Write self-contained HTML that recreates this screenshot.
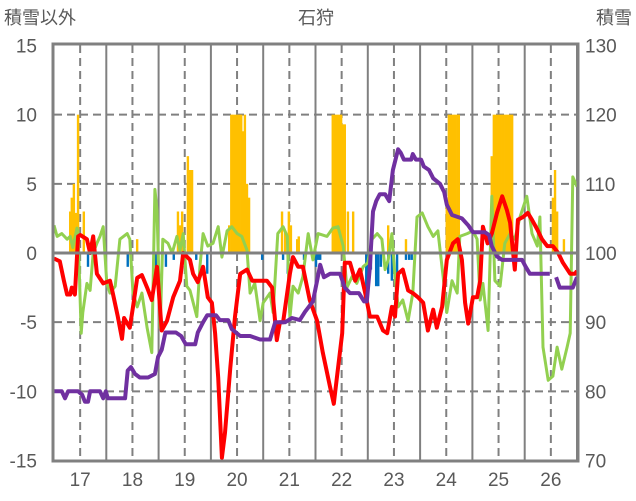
<!DOCTYPE html>
<html><head><meta charset="utf-8">
<style>
html,body{margin:0;padding:0;background:#fff;}
svg{display:block;font-family:"Liberation Sans","Noto Sans CJK JP",sans-serif;}
</style></head>
<body>
<svg id="chart" width="636" height="501" viewBox="0 0 636 501">
  <text x="4" y="24" font-size="18" fill="#595959">積雪以外</text>
  <text x="316" y="24" font-size="18" fill="#595959" text-anchor="middle">石狩</text>
  <text x="632" y="24" font-size="18" fill="#595959" text-anchor="end">積雪</text>
  <g id="grid"></g>
  <g id="bars"></g>
  <g id="lines"></g>
  <g id="axes"></g>
</svg>
<script>
const leftTicks = [15,10,5,0,-5,-10,-15];
const rightTicks = [130,120,110,100,90,80,70];
const yearLabels = [17,18,19,20,21,22,23,24,25,26];

const redT = [16.5,16.61,16.69,16.75,16.81,16.84,16.9,16.96,17.0,17.13,17.19,17.25,17.32,17.44,17.57,17.63,17.72,17.8,17.84,17.95,18.01,18.09,18.18,18.28,18.37,18.47,18.56,18.66,18.78,18.91,18.97,19.1,19.16,19.25,19.35,19.44,19.52,19.58,19.64,19.71,19.77,19.87,19.96,20.06,20.19,20.29,20.44,20.57,20.67,20.76,20.82,20.88,21.01,21.07,21.17,21.26,21.39,21.53,21.64,21.78,21.85,21.91,22.01,22.06,22.16,22.26,22.35,22.45,22.54,22.68,22.79,22.87,22.96,23.02,23.08,23.17,23.27,23.36,23.46,23.56,23.65,23.75,23.82,23.92,24.01,24.13,24.22,24.3,24.36,24.42,24.51,24.59,24.65,24.7,24.79,24.87,24.97,25.07,25.16,25.22,25.31,25.37,25.47,25.56,25.64,25.74,25.83,25.93,26.04,26.14,26.23,26.37,26.46,26.5];
const redV = [-0.4,-0.6,-2,-3,-3,-2.5,-3,1.2,1.3,1,0,1.2,-1.5,-2.2,-2,-3,-4.6,-6.2,-4.7,-5.4,-3.9,-1.8,-1.6,-2.5,-3.4,-1,-5.6,-4.9,-3.2,-2,0,-0.5,-1.5,-2.1,-1,-3.2,-3.6,-5.8,-9,-14.8,-13,-8.3,-4.6,-1.5,-1.2,-2,-2,-2,-2.5,-6.3,-5,-5,-1.5,-0.3,-1,-1,-3.4,-4.9,-7.2,-9.7,-10.9,-9,-5.8,-0.7,-0.7,-2,-1.2,-2.9,-4.6,-4.6,-5.6,-5.8,-3.9,-4.6,-1.5,-1.2,-2.7,-2.9,-3.2,-3.6,-5.6,-4.1,-5.4,-3.9,-0.5,0.7,1,-0.5,-3.6,-5.1,-3.2,-3.2,-2,1.9,0.7,1.4,2.9,4.1,3.1,2.2,-1.2,2.4,2.6,2.9,2.4,1.7,1,0.5,0.5,0,-0.7,-1.5,-1.5,-1.3];

const greenT = [16.5,16.56,16.65,16.75,16.81,16.86,16.94,16.96,17.02,17.05,17.13,17.19,17.25,17.32,17.38,17.44,17.51,17.57,17.67,17.76,17.9,17.95,18.01,18.09,18.18,18.28,18.37,18.43,18.47,18.53,18.58,18.68,18.76,18.85,18.91,18.97,19.04,19.1,19.23,19.29,19.35,19.44,19.54,19.64,19.71,19.81,19.9,20.0,20.09,20.19,20.25,20.34,20.44,20.5,20.63,20.69,20.78,20.88,20.96,21.01,21.07,21.17,21.26,21.36,21.45,21.55,21.72,21.83,21.93,22.03,22.1,22.2,22.29,22.41,22.5,22.58,22.68,22.77,22.83,22.89,22.96,23.02,23.08,23.17,23.27,23.36,23.44,23.54,23.65,23.75,23.84,23.94,24.01,24.11,24.21,24.26,24.4,24.51,24.59,24.65,24.7,24.8,24.87,24.93,25.03,25.12,25.22,25.31,25.41,25.54,25.64,25.74,25.79,25.85,25.95,26.04,26.12,26.21,26.31,26.37,26.42,26.5];
const greenV = [2,1.2,1.4,1,1.2,0.4,1.8,1.4,-5.8,-4.3,-2.2,-2.7,0,0.7,1.2,1.9,-2.2,-2.9,-2.4,1,1.4,1,-2.9,-3.9,-2.9,-5.4,-7.2,4.6,3.1,-5.4,1,0.7,0,1.2,0.2,1.4,-2.4,-2.7,-4.6,-1,1.4,0.5,0.7,1.9,-0.3,1.6,1.9,1.4,1.2,0.2,-2.9,-2.2,-4.9,-3.6,-2.9,-4.3,1.4,1.9,1.2,-4.7,-2.4,-2.9,-1.7,1.4,-0.5,1.4,1.2,1.8,1.9,0.5,-2.5,-1.7,-2.2,-1,-0.7,1,1.4,1,-1.2,-0.5,1.4,-1.7,-3.9,-3.4,-4.9,-2.9,2.6,2.9,1.9,1.2,1.6,-1.7,-4.3,-2,-2.9,1.2,1.4,1.6,1,-3.4,-2.2,-5.6,4.1,-2,-2.4,0.7,1.4,1,2.6,4.1,1.4,0.5,2.6,-6.8,-9.2,-8.9,-6.8,-8.4,-6.8,-5.8,5.5,4.8];

const purpleT = [16.5,16.65,16.71,16.77,16.96,17.04,17.09,17.15,17.19,17.38,17.44,17.49,17.53,17.86,17.91,17.97,18.05,18.14,18.3,18.43,18.49,18.56,18.63,18.83,18.93,19.02,19.2,19.25,19.35,19.43,19.6,19.67,19.83,19.9,20.06,20.25,20.44,20.63,20.73,20.92,21.05,21.2,21.3,21.45,21.53,21.59,21.66,21.78,21.97,22.06,22.16,22.33,22.43,22.48,22.54,22.6,22.66,22.73,22.83,22.91,22.98,23.08,23.13,23.19,23.33,23.36,23.42,23.52,23.57,23.67,23.75,23.88,23.96,24.01,24.11,24.3,24.42,24.51,24.74,24.82,24.87,24.97,25.07,25.45,25.52,25.6,25.98,26.04,26.1,26.17,26.42,26.5];
const purpleV = [80,80,79,80,80,79.5,78.5,78.5,80,80,79,80,79,79,83,83.5,82.5,82,82,82.5,85,86,88.5,88.5,88,86.8,86.8,88.5,90,91,91,90.3,90.3,89,88,88,87.5,87.5,90,90,90.6,90.3,91.5,93,96,98.3,96.5,97,97,95,94.2,94.2,93,93,98,106,107.5,108.5,108.5,107.5,112,115,114.5,113.5,113.5,114.3,113.5,113.5,112.5,112,110.8,110,108.8,107,105.5,105,104,103,103,102.6,101,99.5,99,99,98,97,97,null,96.5,95,95,96.5];

const orangeT = [16.81,16.84,16.88,16.92,16.96,17.07,18.09,18.87,18.91,18.95,19.06,19.1,19.14,19.85,19.89,19.92,19.96,20.0,20.04,20.08,20.11,20.15,20.19,20.23,20.86,20.92,20.99,21.03,21.15,21.18,21.83,21.87,21.91,21.95,21.99,22.03,22.06,22.12,22.22,22.89,23.23,24.01,24.05,24.09,24.13,24.17,24.21,24.24,24.87,24.91,24.95,24.99,25.03,25.07,25.1,25.14,25.18,25.22,25.26,26.04,26.08,26.12,26.25];
const orangeV = [3,4,5,2.9,10,3,1,3,2,3,7,6,6,2,10,10,10,10,10,10,8.8,10,5,4,3,1.5,3,2,1,1.2,10,10,10,10,10,9.3,9.3,3,3,2,1,3.8,10,10,10,10,10,10,7,10,10,10,10,10,10,10,10,10,10,4,6,3,1];

const blueT = [17.15,17.48,17.91,18.45,18.64,18.79,18.95,19.22,19.43,20.48,20.88,20.97,21.28,21.51,21.55,21.59,22.47,22.5,22.56,22.66,22.7,22.75,22.89,22.96,23.06,23.23,23.29,23.34];
const blueV = [-1,-0.5,-1,-1,-1,-0.5,-0.5,-0.5,-1.5,-0.5,-0.5,-1.5,-0.5,-1,-0.5,-0.5,-2.9,-2.9,-1.2,-2.4,-2.4,-1,-1.5,-2,-1.5,-0.5,-0.5,-0.5];

const L=54, R=577, T=45, B=460, Y0=253;
function X(t){ return L + (t-16.5)*(R-L)/10; }
function YL(v){ return Y0 - v*(B-T)/30; }
function YR(r){ return Y0 - (r-100)*(B-T)/60; }
const NS='http://www.w3.org/2000/svg';
function mk(tag, parent, attrs){
  const el=document.createElementNS(NS,tag);
  for(const k in attrs) el.setAttribute(k, attrs[k]);
  parent.appendChild(el); return el;
}
const grid=document.getElementById('grid'), bars=document.getElementById('bars'),
      lines=document.getElementById('lines'), axes=document.getElementById('axes');

// horizontal dashed gridlines
leftTicks.forEach(v=>{
  if(v===0||v===15||v===-15) return;
  const g=mk('line',grid,{x1:L,x2:R,y1:YL(v),y2:YL(v),stroke:'#808080','stroke-width':2,'stroke-dasharray':'8,5'});
  
  
});
// vertical gridlines
for(let y=17;y<=26;y++){
  const s=mk('line',grid,{x1:X(y+0.5),x2:X(y+0.5),y1:T,y2:B,stroke:'#808080','stroke-width':2});
  
  
  const d=mk('line',grid,{x1:X(y),x2:X(y),y1:T,y2:B,stroke:'#808080','stroke-width':2,'stroke-dasharray':'8,5'});
  
  
}
// bars
const bw=2.4;
orangeT.forEach((t,i)=>{
  const v=orangeV[i];
  const r=mk('rect',bars,{x:X(t)-bw/2,y:YL(v),width:bw,height:Y0-YL(v),fill:'#FFC000'});
  
  
});
blueT.forEach((t,i)=>{
  const v=blueV[i];
  const r=mk('rect',bars,{x:X(t)-bw/2,y:Y0,width:bw,height:YL(v)-Y0,fill:'#0070C0'});
  
  
});
// zero line
const z=mk('line',axes,{x1:L,x2:R,y1:Y0,y2:Y0,stroke:'#808080','stroke-width':3});



function path(ts,vs,yf){
  let d='',pen=false;
  ts.forEach((t,i)=>{
    const v=vs[i];
    if(v===null){pen=false;return;}
    d+=(pen?'L':'M')+X(t).toFixed(1)+','+yf(v).toFixed(1);
    pen=true;
  });
  return d;
}
const g1=mk('path',lines,{d:path(greenT,greenV,YL),fill:'none',stroke:'#92D050','stroke-width':3,'stroke-linejoin':'round'});


const r1=mk('path',lines,{d:path(redT,redV,YL),fill:'none',stroke:'#FF0000','stroke-width':4,'stroke-linejoin':'round'});


const p1=mk('path',lines,{d:path(purpleT,purpleV,YR),fill:'none',stroke:'#7030A0','stroke-width':4,'stroke-linejoin':'round'});



// frame
const f=mk('rect',axes,{x:L-1,y:T-1,width:R-L+2,height:B-T+2,fill:'none',stroke:'#808080','stroke-width':3});



leftTicks.forEach(v=>{
  const t=mk('text',axes,{x:37,y:YL(v)+7,'font-size':19,fill:'#595959','text-anchor':'end'});
  t.textContent=v;
  
  
});
rightTicks.forEach(r=>{
  const t=mk('text',axes,{x:585,y:YR(r)+7,'font-size':19,fill:'#595959'});
  t.textContent=r;
  
  
});
yearLabels.forEach(y=>{
  const t=mk('text',axes,{x:X(y),y:486,'font-size':19,fill:'#595959','text-anchor':'middle'});
  t.textContent=y;
  
  
});
</script>
</body></html>
